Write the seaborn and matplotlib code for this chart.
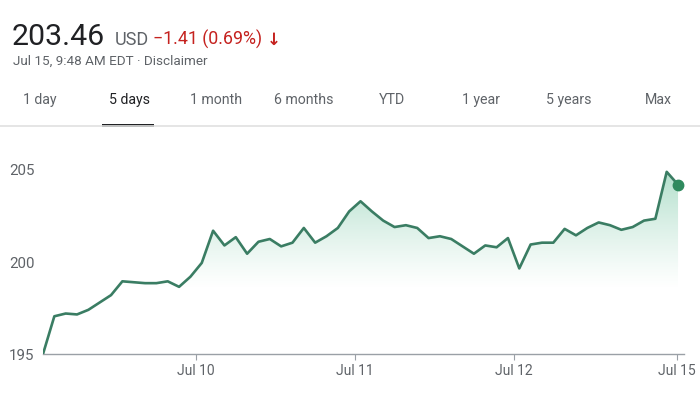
import numpy as np
import pandas as pd
import matplotlib
matplotlib.use("Agg")
import matplotlib.pyplot as plt
import seaborn as sns

# ---- data ----
prices = [195.0, 197.05, 197.2, 197.15, 197.4, 197.8, 198.2, 198.95, 198.9, 198.85,
          198.85, 198.95, 198.65, 199.2, 199.95, 201.7, 200.9, 201.35, 200.45, 201.1,
          201.25, 200.85, 201.05, 201.85, 201.05, 201.4, 201.85, 202.75,
          203.3, 202.75, 202.25, 201.9, 202.0, 201.85, 201.3, 201.4, 201.25, 200.85,
          200.45, 200.9, 200.8, 201.3, 199.65, 200.95, 201.05, 201.05, 201.8, 201.45,
          201.85, 202.15, 202.0, 201.75, 201.9, 202.25, 202.35, 204.9, 204.2]
steps = list(range(len(prices)))
x_tick_pos = [13.5, 27.5, 41.5, 55.9]
x_tick_labels = ["Jul 10", "Jul 11", "Jul 12", "Jul 15"]
y_ticks = [195, 200, 205]
tabs = ["1 day", "5 days", "1 month", "6 months", "YTD", "1 year", "5 years", "Max"]
tab_x = [39.5, 129.5, 216.5, 304, 392, 480.5, 569, 658]
active_tab = "5 days"

df = pd.DataFrame({"step": steps, "price": prices})

sns.set_theme(style="white")
plt.rcParams['font.family'] = ['Roboto', 'DejaVu Sans']

W, H = 700, 394
fig = plt.figure(figsize=(W / 100, H / 100), dpi=100)
fig.patch.set_facecolor("white")

def fx(px):
    return px / W

def fy(py):
    return 1 - py / H

line_color = "#3a7d63"
grey = "#5f6368"
red = "#c5221f"

ax_left, ax_right, ax_top, ax_bottom = 43, 684, 160, 354
ax = fig.add_axes([fx(ax_left), fy(ax_bottom), fx(ax_right - ax_left), (ax_bottom - ax_top) / H])
ymin = 195
ymax = 195 + (ax_bottom - ax_top) / 18.4
xmax = (ax_right - ax_left) / 11.34
ax.set_xlim(0, xmax)
ax.set_ylim(ymin, ymax)

# gradient fill under the line
poly = ax.fill_between(df["step"], df["price"], ymin, color="none", lw=0)
grad_h = 256
yy = np.linspace(ymax, ymin, grad_h)
ramp = np.clip((yy - 198.5) / (205.2 - 198.5), 0, 1)
alpha = ramp ** 1.2 * 0.40
img = np.zeros((grad_h, 2, 4))
img[..., 0] = 0.22
img[..., 1] = 0.68
img[..., 2] = 0.48
img[..., 3] = alpha[:, None]
im = ax.imshow(img, extent=[0, xmax, ymin, ymax], aspect="auto", origin="upper", zorder=1)
path = poly.get_paths()[0]
im.set_clip_path(path, transform=ax.transData)

sns.lineplot(data=df, x="step", y="price", ax=ax, color=line_color, linewidth=1.9, zorder=3)
ax.plot([steps[-1]], [prices[-1]], "o", color="#2f8a5e", markersize=7.5, zorder=4)

for s in ["top", "right", "left"]:
    ax.spines[s].set_visible(False)
ax.spines["bottom"].set_color("#9aa0a6")
ax.spines["bottom"].set_linewidth(1.0)
ax.set_xticks(x_tick_pos)
ax.set_xticklabels(x_tick_labels)
ax.set_yticks(y_ticks)
ax.set_yticklabels([str(v) for v in y_ticks])
ax.tick_params(axis="x", length=4.5, width=0.8, color="#9aa0a6", colors=grey, labelsize=10, pad=3, direction="out", bottom=True)
ax.tick_params(axis="y", length=0, colors=grey, labelsize=10.8, pad=6)
for lab in ax.get_xticklabels() + ax.get_yticklabels():
    lab.set_color(grey)
ax.set_xlabel("")
ax.set_ylabel("")
ax.grid(False)
ax.set_facecolor("none")

# ---- header ----
fig.text(fx(12), fy(45), "203.46", fontsize=21.8, color="#202124", va="baseline", ha="left")
fig.text(fx(115), fy(45), "USD", fontsize=13, color=grey, va="baseline", ha="left")
fig.text(fx(153), fy(45), "\u22121.41 (0.69%)", fontsize=12.8, color=red, va="baseline", ha="left")
fig.text(fx(267), fy(45), "\u2193", fontsize=12, color=red, va="baseline", ha="left", fontweight="bold")
fig.text(fx(13), fy(65), "Jul 15, 9:48 AM EDT \u00b7 Disclaimer", fontsize=9.7, color=grey, va="baseline", ha="left")

for t, x in zip(tabs, tab_x):
    c = "#202124" if t == active_tab else grey
    fig.text(fx(x), fy(104), t, fontsize=10.2, color=c, va="baseline", ha="center")

# separator and active underline
fig.add_artist(plt.Line2D([0, 1], [fy(126), fy(126)], color="#e0e0e0", linewidth=1.2, transform=fig.transFigure))
fig.add_artist(plt.Rectangle((fx(102), fy(127)), fx(52), 3 / H, color="#202124", transform=fig.transFigure, lw=0))

fig.savefig("out.png", dpi=100, facecolor="white")
